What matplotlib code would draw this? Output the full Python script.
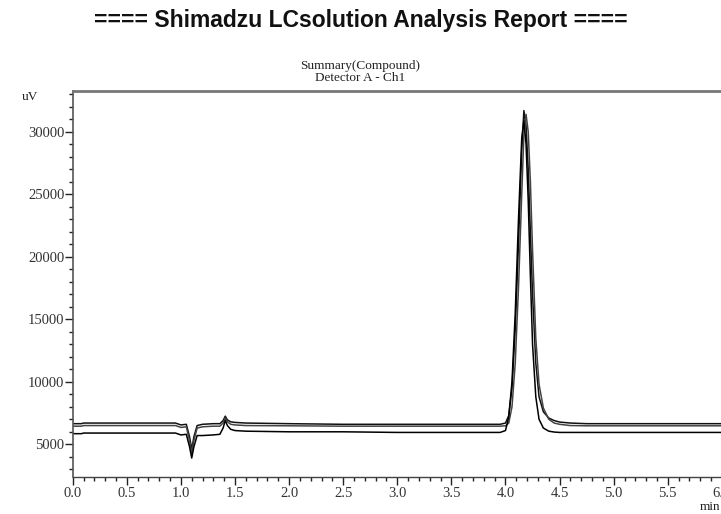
import matplotlib
matplotlib.use("Agg")
import matplotlib.pyplot as plt
from matplotlib.ticker import MultipleLocator

# ---- data ----
time_min = [0.00, 0.08, 0.10, 0.50, 0.95, 1.00, 1.05, 1.08, 1.10, 1.12, 1.15,
            1.20, 1.30, 1.36, 1.39, 1.41, 1.43, 1.46, 1.50, 1.60, 2.00, 2.50,
            3.00, 3.50, 3.80, 3.95, 4.00, 4.03, 4.06, 4.09, 4.12, 4.15, 4.17,
            4.19, 4.21, 4.23, 4.25, 4.28, 4.31, 4.35, 4.40, 4.45, 4.50, 4.60,
            4.75, 5.00, 6.20]

trace_1 = [6650, 6650, 6700, 6700, 6700, 6550, 6600, 5600, 4600, 5600, 6500,
           6600, 6650, 6650, 6900, 7250, 6950, 6800, 6750, 6700, 6650, 6600,
           6600, 6600, 6600, 6600, 6700, 7300, 9500, 14200, 21000, 28500, 31700,
           30500, 27000, 22000, 17000, 11500, 8800, 7600, 7100, 6900, 6780, 6700,
           6650, 6650, 6650]

trace_2 = [6450, 6450, 6500, 6500, 6500, 6350, 6400, 5300, 4300, 5300, 6300,
           6400, 6450, 6450, 6700, 7100, 6800, 6600, 6550, 6500, 6480, 6450,
           6450, 6450, 6450, 6450, 6480, 6700, 8000, 11500, 17500, 25000, 29800,
           31400, 30000, 26000, 20500, 13500, 9800, 7900, 7000, 6700, 6600, 6500,
           6480, 6480, 6480]

trace_3 = [5850, 5850, 5900, 5900, 5900, 5750, 5800, 4800, 3900, 4800, 5700,
           5700, 5750, 5800, 6300, 6900, 6500, 6200, 6100, 6050, 6000, 6000,
           5950, 5950, 5950, 5950, 6100, 7200, 10000, 15500, 23000, 29500, 30900,
           29000, 24500, 18500, 13000, 8800, 7000, 6300, 6050, 5980, 5950, 5950,
           5950, 5950, 5950]

traces = [trace_1, trace_2, trace_3]
trace_colors = ["#111111", "#444444", "#000000"]

x_major_labels = ["0.0", "0.5", "1.0", "1.5", "2.0", "2.5", "3.0", "3.5",
                  "4.0", "4.5", "5.0", "5.5", "6.0"]

# ---- figure ----
W, H = 721, 514
fig = plt.figure(figsize=(W / 100, H / 100), dpi=100)
serif = ["Liberation Serif", "DejaVu Serif"]

ax_left = 72.7 / W
ax_bottom = 1 - 477.3 / H
ax_top = 1 - 90.7 / H
ax_right = 1.02
ax = fig.add_axes([ax_left, ax_bottom, ax_right - ax_left, ax_top - ax_bottom])

for y, c in zip(traces, trace_colors):
    ax.plot(time_min, y, color=c, lw=1.1, solid_joinstyle="round")

px_per_min = 108.2
xmax = (ax_right - ax_left) * W / px_per_min
ax.set_xlim(0, xmax)
ax.set_ylim(2360, 33290)

ax.xaxis.set_major_locator(MultipleLocator(0.5))
ax.xaxis.set_minor_locator(MultipleLocator(0.1))
ax.yaxis.set_major_locator(MultipleLocator(5000))
ax.yaxis.set_minor_locator(MultipleLocator(1000))
ax.set_xticks([i * 0.5 for i in range(len(x_major_labels))])
ax.set_xticklabels(x_major_labels)

ax.tick_params(axis="both", which="major", direction="out", length=5.5,
               width=1.0, color="#222222", labelsize=10.5, labelcolor="#333333", pad=0.5)
ax.tick_params(axis="both", which="minor", direction="out", length=2.9,
               width=1.0, color="#222222")
ax.tick_params(axis="x", which="major", pad=1.5)
for lab in ax.get_xticklabels() + ax.get_yticklabels():
    lab.set_family(serif)

ax.spines["right"].set_visible(False)
ax.spines["top"].set_color("#777777")
ax.spines["top"].set_linewidth(2.0)
ax.spines["left"].set_color("#555555")
ax.spines["left"].set_linewidth(1.2)
ax.spines["bottom"].set_color("#444444")
ax.spines["bottom"].set_linewidth(1.0)

fig.text(0.5, 1 - 20 / H, "==== Shimadzu LCsolution Analysis Report ====",
         ha="center", va="center", fontsize=16.5, fontweight="bold",
         family=["Liberation Sans", "DejaVu Sans"], color="#111111")
fig.text(360 / W, 1 - 66 / H, "Summary(Compound)", ha="center", va="center",
         fontsize=9.5, family=serif, color="#222222")
fig.text(360 / W, 1 - 78 / H, "Detector A - Ch1", ha="center", va="center",
         fontsize=9.5, family=serif, color="#222222")
fig.text(30 / W, 1 - 97 / H, "uV", ha="center", va="center",
         fontsize=9.5, family=serif, color="#222222")
fig.text(720 / W, 1 - 507 / H, "min", ha="right", va="center",
         fontsize=9.5, family=serif, color="#222222")

fig.savefig("out.png", dpi=100)
